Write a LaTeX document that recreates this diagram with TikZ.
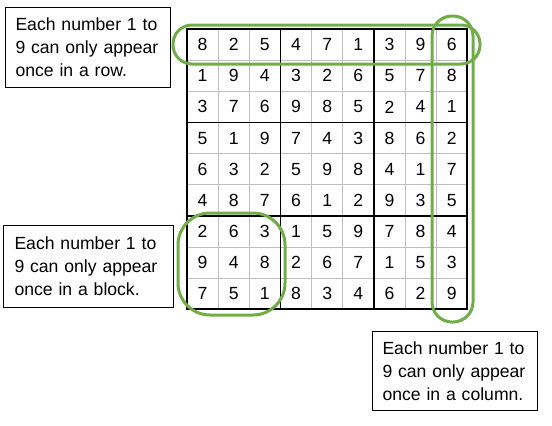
\documentclass[tikz,border=0pt]{standalone}
\usepackage{fontspec}
\setmainfont{Liberation Sans}
\definecolor{ringgreen}{HTML}{70AD47}
\tikzset{
  note/.style={draw,line width=1bp,anchor=north west,align=left,inner xsep=10bp,
    font=\fontsize{17.6bp}{23bp}\selectfont},
  ring/.style={draw=ringgreen,line width=3bp}
}
\begin{document}
\begin{tikzpicture}[x=1bp,y=-1bp]
  \useasboundingbox (0,0) rectangle (552,425);
  \def\cell{31.15}
  % grid lines
  \foreach \k in {1,2,4,5,7,8} {
    \draw[black!25,line width=1bp] (187+\k*\cell,29) -- (187+\k*\cell,309.35);
    \draw[black!25,line width=1bp] (187,29+\k*\cell) -- (467.35,29+\k*\cell);
  }
  \foreach \k in {3,6} {
    \draw[line width=1.5bp] (187+\k*\cell,29) -- (187+\k*\cell,309.35);
    \draw[line width=1.5bp] (187,29+\k*\cell) -- (467.35,29+\k*\cell);
  }
  \draw[line width=2bp] (187,29) rectangle (467.35,309.35);
  % digits
  \begin{scope}[every node/.style={font=\fontsize{17.6bp}{23bp}\selectfont,inner sep=0pt}]
    \foreach \row [count=\r] in {{8,2,5,4,7,1,3,9,6},{1,9,4,3,2,6,5,7,8},{3,7,6,9,8,5,2,4,1},
        {5,1,9,7,4,3,8,6,2},{6,3,2,5,9,8,4,1,7},{4,8,7,6,1,2,9,3,5},
        {2,6,3,1,5,9,7,8,4},{9,4,8,2,6,7,1,5,3},{7,5,1,8,3,4,6,2,9}}
      \foreach \d [count=\c] in \row
        \node (n\r\c) at (187+\c*\cell-0.5*\cell,29+\r*\cell-0.5*\cell) {\d};
  \end{scope}
  % highlights
  \draw[ring,rounded corners=19bp] (173,25) rectangle (480,64);
  \draw[ring,rounded corners=20bp] (432,16) rectangle (473,322);
  \draw[ring,rounded corners=32bp] (178,213) rectangle (285,315);
  % notes
  \node[note,text width=145bp,minimum height=80bp] (rownote) at (5,7)
    {Each number 1 to\\9 can only appear\\once in a row.};
  \node[note,text width=148bp,inner xsep=11bp,minimum height=82bp] (blocknote) at (3,225)
    {Each number 1 to\\9 can only appear\\once in a block.};
  \node[note,text width=145bp,minimum height=79bp] (colnote) at (372,331)
    {Each number 1 to\\9 can only appear\\once in a column.};
\end{tikzpicture}
\end{document}
